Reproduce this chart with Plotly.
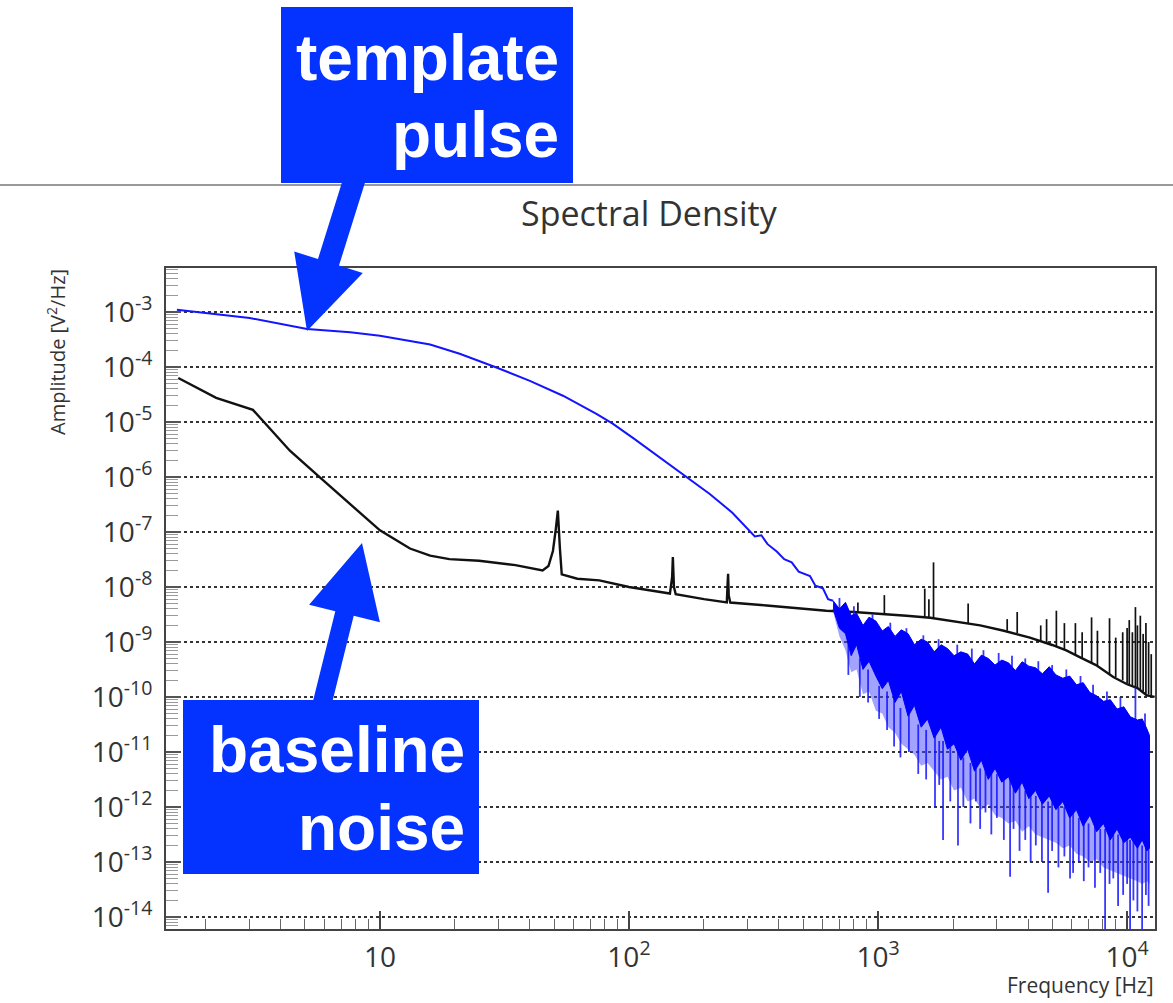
import plotly.graph_objects as go

W, H = 1173, 1003
M_L, M_R, M_T, M_B = 166, 18, 268, 74
PW = W - M_L - M_R
PH = H - M_T - M_B


def xp(px):
    """Pixel column -> paper x."""
    return (px - M_L) / PW


def yp(py):
    """Pixel row -> paper y."""
    return (H - M_B - py) / PH


# ---------------- data ----------------
# Template pulse, smooth low-frequency part (Hz, V^2/Hz)
pulse_freq = [1.53, 2.0, 3.0, 5.1, 7.6, 10, 12, 15.9, 20.9, 29, 40, 54.3, 74, 86, 104, 133,
              171, 211, 260, 287, 300, 320, 340, 360, 392, 420, 450, 480, 533, 560, 600,
              630, 660]
pulse_amp = [1.10e-3, 9.6e-4, 7.8e-4, 4.9e-4, 4.27e-4, 3.7e-4, 3.24e-4, 2.57e-4, 1.74e-4,
             1.0e-4, 5.6e-5, 3.0e-5, 1.4e-5, 9.3e-6, 5.1e-6, 2.24e-6, 9.8e-7, 4.9e-7,
             2.24e-7, 1.41e-7, 1.12e-7, 8.3e-8, 8.7e-8, 6.0e-8, 4.4e-8, 3.2e-8, 2.8e-8,
             1.9e-8, 1.58e-8, 1.05e-8, 9.5e-9, 6.0e-9, 5.6e-9]

# Template pulse, noisy high-frequency part: envelopes as log10(V^2/Hz)
noise_freq = [660, 700, 740, 780, 820, 870, 920, 980, 1040, 1100,
              1170, 1240, 1320, 1400, 1490, 1580, 1680, 1790, 1900, 2020,
              2150, 2290, 2440, 2600, 2770, 2950, 3140, 3340, 3560, 3790,
              4030, 4290, 4570, 4870, 5180, 5520, 5880, 6260, 6660, 7090,
              7550, 8040, 8560, 9110, 9700, 10300, 11000, 11500, 12000, 12300]
noise_upper_log = [-8.25, -8.40, -8.28, -8.52, -8.48, -8.70, -8.55, -8.62, -8.80, -8.72,
                   -8.90, -8.78, -8.85, -9.05, -8.95, -9.00, -9.18, -9.05, -9.12, -9.25,
                   -9.18, -9.22, -9.40, -9.24, -9.30, -9.42, -9.33, -9.38, -9.52, -9.36,
                   -9.44, -9.47, -9.58, -9.45, -9.60, -9.66, -9.62, -9.78, -9.74, -9.92,
                   -9.98, -10.08, -10.05, -10.22, -10.18, -10.36, -10.42, -10.40, -10.58, -10.70]
noise_core_low_log = [-8.40, -8.75, -8.85, -9.25, -9.05, -9.50, -9.35, -9.62, -9.85, -9.70,
                      -10.10, -9.90, -10.35, -10.15, -10.55, -10.40, -10.75, -10.55, -10.95, -10.85,
                      -11.15, -10.95, -11.35, -11.15, -11.50, -11.30, -11.55, -11.45, -11.75, -11.55,
                      -11.85, -11.70, -11.95, -11.80, -12.05, -11.90, -12.20, -12.05, -12.35, -12.15,
                      -12.45, -12.30, -12.60, -12.40, -12.65, -12.55, -12.75, -12.60, -12.80, -12.75]
noise_fringe_low_log = [-8.45, -8.9, -9.15, -9.55, -9.5, -9.95, -9.9, -10.25, -10.3, -10.55,
                        -10.65, -10.85, -10.95, -11.05, -11.25, -11.2, -11.35, -11.5, -11.45, -11.7,
                        -11.65, -11.9, -11.85, -12.05, -11.95, -12.15, -12.2, -12.3, -12.25, -12.45,
                        -12.35, -12.5, -12.55, -12.6, -12.65, -12.75, -12.7, -12.85, -12.9, -13.0,
                        -12.95, -13.1, -13.15, -13.2, -13.25, -13.3, -13.35, -13.4, -13.35, -13.4]

# Single-bin excursions of the pulse spectrum (Hz, log10 top, log10 bottom)
spike_freq = [760, 845, 912, 1010, 1087, 1160, 1230, 1330, 1450, 1560,
              1693, 1760, 1824, 1950, 2094, 2200, 2350, 2470, 2570, 2700,
              2850, 3000, 3200, 3390, 3500, 3700, 3900, 4100, 4300, 4550,
              4817, 5000, 5300, 5600, 5900, 6070, 6400, 6700, 7000, 7430,
              7800, 8160, 8500, 8800, 9200, 9640, 10000, 10280, 10600, 11000,
              11490, 11900, 12200,
              700, 800, 950, 1120, 1300, 1520, 1750, 2080, 2380, 2650,
              3050, 3450, 3900, 4400, 5000, 5700, 6500, 7300, 8300, 9400,
              10800, 11800]
spike_top_log = [-8.9, -9.3, -9.5, -9.8, -9.9, -10.0, -10.2, -10.3, -10.5, -10.6,
                 -10.7, -10.8, -10.8, -10.9, -11.0, -11.1, -11.2, -11.2, -11.3, -11.3,
                 -11.4, -11.4, -11.5, -11.5, -11.6, -11.6, -11.7, -11.7, -11.8, -11.8,
                 -11.9, -11.9, -12.0, -12.0, -12.1, -12.1, -12.2, -12.2, -12.3, -12.3,
                 -12.4, -12.4, -12.4, -12.5, -12.5, -12.5, -12.6, -12.6, -12.6, -12.6,
                 -12.7, -12.7, -12.7,
                 -8.20, -8.35, -8.50, -8.65, -8.75, -8.88, -8.95, -9.05, -9.12, -9.15,
                 -9.20, -9.25, -9.30, -9.35, -9.42, -9.50, -9.62, -9.78, -9.90, -10.0,
                 -9.82, -10.3]
spike_bot_log = [-9.6, -10.0, -10.1, -10.4, -10.6, -10.9, -11.1, -11.0, -11.4, -11.5,
                 -12.0, -11.6, -12.6, -11.9, -12.7, -12.0, -12.3, -11.9, -12.4, -12.1,
                 -12.5, -12.2, -12.6, -13.27, -12.4, -12.8, -12.6, -13.0, -12.7, -13.0,
                 -13.56, -12.8, -13.1, -12.9, -13.3, -13.2, -13.0, -13.35, -13.1, -13.47,
                 -13.2, -14.3, -13.4, -13.3, -13.8, -13.6, -13.4, -14.3, -13.7, -13.9,
                 -14.3, -13.6, -13.8,
                 -8.5, -8.7, -8.9, -9.0, -9.1, -9.2, -9.3, -9.4, -9.5, -9.5,
                 -9.6, -9.6, -9.7, -9.8, -9.8, -9.9, -10.0, -10.2, -10.3, -10.5,
                 -10.6, -10.7]

# Baseline noise spectrum, continuum (Hz, V^2/Hz)
base_freq = [1.55, 2.2, 3.09, 4.35, 5.74, 7.6, 10, 13.2, 15.9, 19, 25, 35, 45, 47.5, 49.5,
             50.8, 51.8, 52.8, 53.7, 62, 76, 100, 146, 149, 150, 151.5, 154, 200, 247, 249,
             250, 251.5, 255, 357, 500, 620, 800, 1000, 1300, 1620, 2000, 2570, 3200, 4070,
             5000, 5700, 6450, 7500, 8800, 10000, 11000, 12000, 12900]
base_amp = [6.3e-5, 2.75e-5, 1.66e-5, 3.0e-6, 9.8e-7, 3.2e-7, 1.07e-7, 5.0e-8, 3.7e-8, 3.2e-8,
            3.0e-8, 2.5e-8, 2.0e-8, 2.4e-8, 4.5e-8, 1.1e-7, 2.45e-7, 5.0e-8, 1.7e-8, 1.41e-8,
            1.32e-8, 1.0e-8, 7.6e-9, 1.5e-8, 3.5e-8, 1.0e-8, 7.4e-9, 6.0e-9, 5.25e-9, 1.2e-8,
            1.74e-8, 7.0e-9, 5.2e-9, 4.6e-9, 4.0e-9, 3.7e-9, 3.5e-9, 3.3e-9, 3.0e-9, 2.75e-9,
            2.4e-9, 2.0e-9, 1.6e-9, 1.2e-9, 8.8e-10, 7.0e-10, 5.3e-10, 3.8e-10, 2.3e-10,
            1.7e-10, 1.45e-10, 1.07e-10, 1.0e-10]

# Baseline noise lines above the continuum (Hz, base, peak in V^2/Hz)
line_freq = [830, 1060, 1540, 1600, 1670, 2300, 3300, 3620, 4500, 4750, 5200, 5600, 6200,
             6600, 7200, 7600, 8500, 9000, 9600, 10000, 10200, 10500, 10800, 11000, 11300,
             11600, 11900, 12200, 12500]
line_base = [3.45e-9, 3.25e-9, 2.8e-9, 2.75e-9, 2.7e-9, 2.15e-9, 1.6e-9, 1.45e-9, 1.0e-9,
             9.5e-10, 8.3e-10, 7.3e-10, 5.8e-10, 5.1e-10, 4.2e-10, 3.7e-10, 2.6e-10, 2.3e-10,
             2.0e-10, 1.75e-10, 1.7e-10, 1.6e-10, 1.5e-10, 1.45e-10, 1.35e-10, 1.25e-10,
             1.15e-10, 1.1e-10, 1.05e-10]
line_peak = [5.2e-9, 7.1e-9, 9.3e-9, 6.0e-9, 2.8e-8, 5.0e-9, 2.6e-9, 3.5e-9, 2.0e-9, 2.6e-9,
             3.7e-9, 2.2e-9, 2.2e-9, 1.5e-9, 2.8e-9, 1.6e-9, 2.7e-9, 1.2e-9, 1.5e-9, 1.8e-9,
             2.5e-9, 1.5e-9, 4.3e-9, 2.0e-9, 3.0e-9, 1.4e-9, 2.2e-9, 1.0e-9, 6.0e-10]

# Axis ticks
x_tick_vals = [10, 100, 1000, 10000]
x_tick_text = ["10", "10<sup>2</sup>", "10<sup>3</sup>", "10<sup>4</sup>"]
y_exponents = list(range(-14, -2))
y_tick_vals = [10.0 ** e for e in y_exponents]
y_tick_text = ["10<sup>%d</sup>" % e for e in y_exponents]
x_minor = [m * 10.0 ** k for k in range(0, 5) for m in range(2, 10)]
y_minor = [m * 10.0 ** k for k in range(-15, -2) for m in range(2, 10)]


def segments(xs, lows, highs):
    """Vertical segments as one broken polyline."""
    sx, sy = [], []
    for f, a, b in zip(xs, lows, highs):
        sx += [f, f, None]
        sy += [a, b, None]
    return sx, sy


# ---------------- traces ----------------
fig = go.Figure()

fig.add_trace(go.Scatter(x=base_freq, y=base_amp, mode="lines",
                         line=dict(color="#111111", width=2.4)))
lx, ly = segments(line_freq, line_base, line_peak)
fig.add_trace(go.Scatter(x=lx, y=ly, mode="lines", line=dict(color="#111111", width=1.7)))

upper = [10.0 ** v for v in noise_upper_log]
core_low = [10.0 ** v for v in noise_core_low_log]
fringe_low = [10.0 ** v for v in noise_fringe_low_log]

fig.add_trace(go.Scatter(x=noise_freq + noise_freq[::-1], y=upper + fringe_low[::-1],
                         mode="lines", fill="toself", fillcolor="rgba(70,70,255,0.5)",
                         line=dict(width=0)))

sx, sy = segments(spike_freq, [10.0 ** v for v in spike_top_log],
                  [10.0 ** v for v in spike_bot_log])
fig.add_trace(go.Scatter(x=sx, y=sy, mode="lines",
                         line=dict(color="rgba(20,20,255,0.85)", width=1.8)))

fig.add_trace(go.Scatter(x=noise_freq + noise_freq[::-1], y=upper + core_low[::-1],
                         mode="lines", fill="toself", fillcolor="#0000ff",
                         line=dict(color="#0000ff", width=1)))

fig.add_trace(go.Scatter(x=pulse_freq, y=pulse_amp, mode="lines",
                         line=dict(color="#1414ff", width=2)))

# ---------------- callout shapes ----------------
BLUE = "#0433FF"


def path(points):
    return "M " + " L ".join("%.5f,%.5f" % (xp(a), yp(b)) for a, b in points) + " Z"


shapes = [
    # separator line across the page
    dict(type="line", xref="paper", yref="paper", x0=xp(0), x1=xp(W), y0=yp(185), y1=yp(185),
         line=dict(color="#999999", width=2)),
    # arrow from the "template pulse" box
    dict(type="path", xref="paper", yref="paper", fillcolor=BLUE, line=dict(width=0),
         path=path([(345.2, 172.1), (318.0, 259.0), (294.2, 251.5), (307.0, 331.0),
                    (362.8, 273.1), (339.0, 265.6), (366.2, 178.7)])),
    # arrow from the "baseline noise" box
    dict(type="path", xref="paper", yref="paper", fillcolor=BLUE, line=dict(width=0),
         path=path([(311.9, 705.4), (335.3, 611.2), (309.1, 604.7), (362.0, 543.0),
                    (379.9, 622.3), (353.7, 615.8), (330.3, 710.0)])),
    dict(type="rect", xref="paper", yref="paper", x0=xp(281), x1=xp(573), y0=yp(183), y1=yp(7),
         fillcolor=BLUE, line=dict(width=0)),
    dict(type="rect", xref="paper", yref="paper", x0=xp(183), x1=xp(479), y0=yp(874), y1=yp(700),
         fillcolor=BLUE, line=dict(width=0)),
]

BOX_FONT = dict(family="Liberation Sans, Arial, sans-serif", size=64, color="white")


def box_label(text, right, baseline):
    return dict(text="<b>%s</b>" % text, xref="paper", yref="paper",
                x=xp(right), y=yp(baseline - 22), xanchor="right", yanchor="middle",
                showarrow=False, font=BOX_FONT, borderpad=0)


annotations = [
    box_label("template", 560, 80),
    box_label("pulse", 560, 157),
    box_label("baseline", 466, 772),
    box_label("noise", 466, 850),
    dict(text="Spectral Density", xref="paper", yref="paper", x=xp(649), y=yp(213),
         xanchor="center", yanchor="middle", showarrow=False,
         font=dict(family="Open Sans", size=34, color="#333333")),
    dict(text="Frequency [Hz]", xref="paper", yref="paper", x=xp(1156), y=yp(985),
         xanchor="right", yanchor="middle", showarrow=False,
         font=dict(family="Open Sans", size=21, color="#333333")),
    dict(text="Amplitude [V<sup>2</sup>/Hz]", xref="paper", yref="paper", x=xp(56), y=yp(352),
         xanchor="center", yanchor="middle", textangle=-90, showarrow=False,
         font=dict(family="Open Sans", size=20, color="#333333")),
]

TICK_FONT = dict(family="Open Sans", size=28, color="#333333")

fig.update_layout(
    width=W, height=H,
    margin=dict(l=M_L, r=M_R, t=M_T, b=M_B, pad=0),
    paper_bgcolor="white", plot_bgcolor="white",
    showlegend=False,
    shapes=shapes,
    annotations=annotations,
    xaxis=dict(type="log", range=[0.141, 4.112], showgrid=False, zeroline=False,
               tickmode="array", tickvals=x_tick_vals, ticktext=x_tick_text,
               ticks="inside", ticklen=18, tickwidth=1.5, tickcolor="#444444",
               tickfont=TICK_FONT, ticklabelstandoff=2,
               minor=dict(tickmode="array", tickvals=x_minor, ticks="inside",
                          ticklen=10, tickwidth=1.2, tickcolor="#666666"),
               showline=True, linecolor="#444444", linewidth=2, mirror=True),
    yaxis=dict(type="log", range=[-14.22, -2.2], showgrid=True, gridcolor="#333333",
               griddash="dot", gridwidth=1.5, zeroline=False,
               tickmode="array", tickvals=y_tick_vals, ticktext=y_tick_text,
               ticks="inside", ticklen=15, tickwidth=1.5, tickcolor="#555555",
               tickfont=TICK_FONT, ticklabelstandoff=6,
               minor=dict(tickmode="array", tickvals=y_minor, ticks="inside",
                          ticklen=12, tickwidth=1.2, tickcolor="#999999", showgrid=False),
               showline=True, linecolor="#444444", linewidth=2, mirror=True),
)

fig.write_html("out.html", config={"displayModeBar": False})
